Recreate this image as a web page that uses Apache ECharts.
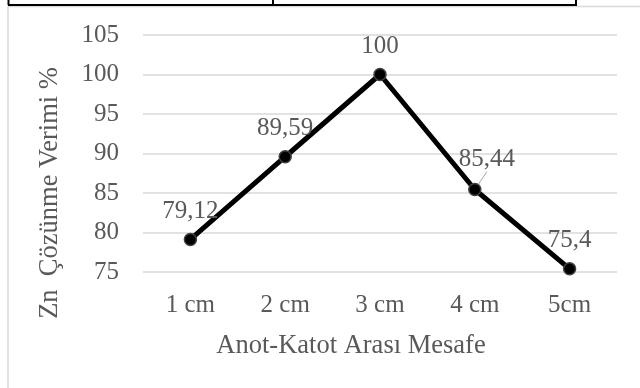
<!DOCTYPE html>
<html>
<head>
<meta charset="utf-8">
<script src="https://cdn.jsdelivr.net/npm/echarts@6/dist/echarts.min.js"></script>
<style>
html,body{margin:0;padding:0;background:#fff;}
#c{width:640px;height:388px;}
</style>
</head>
<body>
<div id="c"></div>
<script>
var categories = ['1 cm', '2 cm', '3 cm', '4 cm', '5cm'];
var values = [79.12, 89.59, 100, 85.44, 75.4];
var valueLabels = ['79,12', '89,59', '100', '85,44', '75,4'];
var yTicks = [75, 80, 85, 90, 95, 100, 105];
var yName = 'Zn  Çözünme Verimi %';
var xName = 'Anot-Katot Arası Mesafe';

var FONT = '"Liberation Serif", "Times New Roman", serif';
var TXT = '#595959';

var chart = echarts.init(document.getElementById('c'), null, {renderer: 'canvas'});

var data = values.map(function (v, i) {
  var item = {value: v, label: {formatter: valueLabels[i]}};
  if (i === 3) {
    item.labelLine = {show: true, lineStyle: {color: '#a6a6a6', width: 1}};
  }
  return item;
});

chart.setOption({
  animation: false,
  backgroundColor: '#fff',
  grid: {left: 143, right: 23, top: 35, bottom: 116, containLabel: false},
  xAxis: {
    type: 'category',
    data: categories,
    boundaryGap: true,
    axisLine: {show: false},
    axisTick: {show: false},
    axisLabel: {color: TXT, fontFamily: FONT, fontSize: 25, margin: 21}
  },
  yAxis: {
    type: 'value',
    min: yTicks[0],
    max: yTicks[yTicks.length - 1],
    interval: 5,
    axisLine: {show: false},
    axisTick: {show: false},
    axisLabel: {color: TXT, fontFamily: FONT, fontSize: 25, margin: 24},
    splitLine: {lineStyle: {color: '#d9d9d9', width: 1.5}}
  },
  series: [{
    type: 'line',
    data: data,
    symbol: 'circle',
    symbolSize: 12,
    lineStyle: {color: '#000', width: 5},
    itemStyle: {color: '#000', borderColor: '#404040', borderWidth: 1.5},
    label: {show: true, position: 'top', distance: 9, color: TXT, fontFamily: FONT, fontSize: 25},
    labelLayout: function (p) {
      if (p.dataIndex === 3) return {dx: 12, dy: -2};
      return {};
    }
  }],
  graphic: [
    {type: 'rect', shape: {x: 8, y: 6.5, width: 800, height: 600}, style: {fill: 'none', stroke: '#d9d9d9', lineWidth: 1.5}, silent: true, z: -10},
    {type: 'line', shape: {x1: 8, y1: 5, x2: 577, y2: 5}, style: {stroke: '#000', lineWidth: 2}},
    {type: 'line', shape: {x1: 8.5, y1: -1, x2: 8.5, y2: 5}, style: {stroke: '#000', lineWidth: 2}},
    {type: 'line', shape: {x1: 273, y1: -1, x2: 273, y2: 5}, style: {stroke: '#000', lineWidth: 2}},
    {type: 'line', shape: {x1: 576, y1: -1, x2: 576, y2: 5}, style: {stroke: '#000', lineWidth: 2}},
    {type: 'text', x: 50, y: 193, rotation: Math.PI / 2,
      style: {text: yName, fill: TXT, font: '26.5px ' + FONT, textAlign: 'center', textVerticalAlign: 'middle'}},
    {type: 'text', x: 351, y: 346,
      style: {text: xName, fill: TXT, font: '26.5px ' + FONT, textAlign: 'center', textVerticalAlign: 'middle'}}
  ]
});
</script>
</body>
</html>
